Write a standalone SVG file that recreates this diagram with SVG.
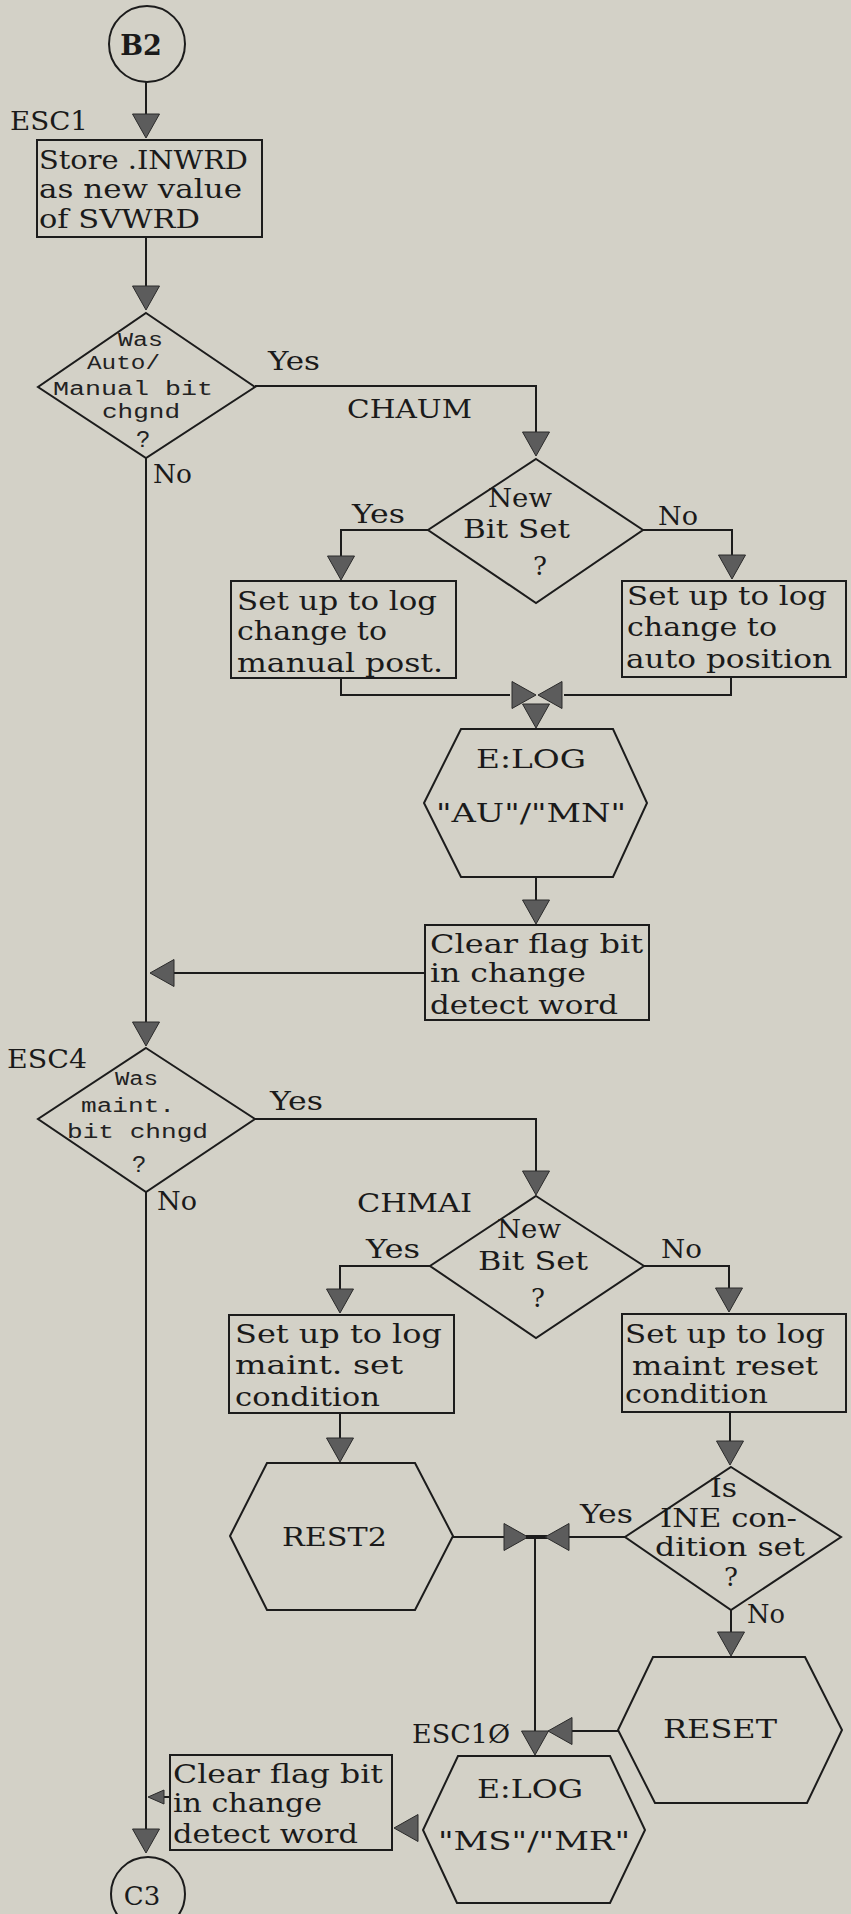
<svg xmlns="http://www.w3.org/2000/svg" xmlns:xlink="http://www.w3.org/1999/xlink" width="851" height="1914" viewBox="0 0 851 1914">
<defs>
<style>
.bg{fill:#d3d1c7}
.ln{stroke:#1c1c1c;stroke-width:2;fill:none}
.shp{stroke:#1c1c1c;stroke-width:2;fill:none}
.t{font-family:"DejaVu Serif","Liberation Serif",serif;font-size:26px;fill:#1a1a1a}
.m{font-family:"Liberation Mono","DejaVu Sans Mono",monospace;font-size:20px;fill:#222}
.b{font-weight:bold}
.ah{fill:#5c5c5c;stroke:#2a2a2a;stroke-width:1}
</style>
<path id="ad" class="ah" d="M-13.5,-24 L13.5,-24 L0,0 Z"/>
<path id="al" class="ah" d="M0,0 L24,-13.5 L24,13.5 Z"/>
<path id="ar" class="ah" d="M0,0 L-24,-13.5 L-24,13.5 Z"/>
<path id="als" class="ah" d="M0,0 L16,-7 L16,7 Z"/>
</defs>
<rect class="bg" x="0" y="0" width="851" height="1914"/>

<g id="connectors">
<line class="ln" x1="146" y1="82" x2="146" y2="115"/>
<use xlink:href="#ad" x="146" y="138"/>
<line class="ln" x1="146" y1="237" x2="146" y2="287"/>
<use xlink:href="#ad" x="146" y="310"/>
<polyline class="ln" points="255,386 536,386 536,432"/>
<use xlink:href="#ad" x="536" y="456"/>
<polyline class="ln" points="428,530 341,530 341,557"/>
<use xlink:href="#ad" x="341" y="580"/>
<polyline class="ln" points="643,530 732,530 732,556"/>
<use xlink:href="#ad" x="732" y="579"/>
<polyline class="ln" points="341,678 341,695 510,695"/>
<use xlink:href="#ar" x="536" y="695"/>
<polyline class="ln" points="731,677 731,695 564,695"/>
<use xlink:href="#al" x="538" y="695"/>
<use xlink:href="#ad" x="536" y="728"/>
<line class="ln" x1="536" y1="877" x2="536" y2="901"/>
<use xlink:href="#ad" x="536" y="924"/>
<line class="ln" x1="425" y1="973" x2="172" y2="973"/>
<use xlink:href="#al" x="150" y="973"/>
<line class="ln" x1="146" y1="458" x2="146" y2="1023"/>
<use xlink:href="#ad" x="146" y="1046"/>
<polyline class="ln" points="255,1119 536,1119 536,1172"/>
<use xlink:href="#ad" x="536" y="1195"/>
<polyline class="ln" points="430,1266 340,1266 340,1290"/>
<use xlink:href="#ad" x="340" y="1313"/>
<polyline class="ln" points="644,1266 729,1266 729,1289"/>
<use xlink:href="#ad" x="729" y="1312"/>
<line class="ln" x1="340" y1="1413" x2="340" y2="1439"/>
<use xlink:href="#ad" x="340" y="1462"/>
<line class="ln" x1="730" y1="1412" x2="730" y2="1441"/>
<use xlink:href="#ad" x="730" y="1465"/>
<line class="ln" x1="453" y1="1537" x2="506" y2="1537"/>
<use xlink:href="#ar" x="528" y="1537"/>
<line class="ln" x1="526" y1="1537" x2="547" y2="1537" style="stroke-width:4"/>
<line class="ln" x1="625" y1="1537" x2="566" y2="1537"/>
<use xlink:href="#al" x="545" y="1537"/>
<line class="ln" x1="535" y1="1537" x2="535" y2="1732"/>
<use xlink:href="#ad" x="535" y="1755"/>
<line class="ln" x1="731" y1="1610" x2="731" y2="1633"/>
<use xlink:href="#ad" x="731" y="1656"/>
<line class="ln" x1="618" y1="1731" x2="568" y2="1731"/>
<use xlink:href="#al" x="548" y="1731"/>
<use xlink:href="#al" x="394" y="1828"/>
<line class="ln" x1="170" y1="1797" x2="162" y2="1797"/>
<use xlink:href="#als" x="148" y="1797"/>
<line class="ln" x1="146" y1="1192" x2="146" y2="1830"/>
<use xlink:href="#ad" x="146" y="1853"/>
<text class="t" x="268" y="370" textLength="52" lengthAdjust="spacingAndGlyphs">Yes</text>
<text class="t" x="153" y="483" textLength="39" lengthAdjust="spacingAndGlyphs">No</text>
<text class="t" x="352" y="523" textLength="53" lengthAdjust="spacingAndGlyphs">Yes</text>
<text class="t" x="658" y="525" textLength="40" lengthAdjust="spacingAndGlyphs">No</text>
<text class="t" x="270" y="1110" textLength="53" lengthAdjust="spacingAndGlyphs">Yes</text>
<text class="t" x="157" y="1210" textLength="40" lengthAdjust="spacingAndGlyphs">No</text>
<text class="t" x="366" y="1258" textLength="54" lengthAdjust="spacingAndGlyphs">Yes</text>
<text class="t" x="661" y="1258" textLength="41" lengthAdjust="spacingAndGlyphs">No</text>
<text class="t" x="580" y="1523" textLength="53" lengthAdjust="spacingAndGlyphs">Yes</text>
<text class="t" x="747" y="1623" textLength="38" lengthAdjust="spacingAndGlyphs">No</text>
</g>

<g id="n_b2">
<circle class="shp" cx="147" cy="44" r="38"/>
<text class="t b" x="141" y="55" text-anchor="middle" style="font-size:27px">B2</text>
</g>

<g id="n_store">
<text class="t" x="10" y="130" textLength="78" lengthAdjust="spacingAndGlyphs">ESC1</text>
<rect class="shp" x="37" y="140" width="225" height="97"/>
<text class="t" x="39" y="169" textLength="209" lengthAdjust="spacingAndGlyphs">Store .INWRD</text>
<text class="t" x="39" y="198" textLength="203" lengthAdjust="spacingAndGlyphs">as new value</text>
<text class="t" x="39" y="228" textLength="161" lengthAdjust="spacingAndGlyphs">of SVWRD</text>
</g>

<g id="n_d1">
<polygon class="shp" points="146,313 255,387 146,458 38,387"/>
<text class="m" x="118" y="346" textLength="45" lengthAdjust="spacingAndGlyphs">Was</text>
<text class="m" x="87" y="369" textLength="73" lengthAdjust="spacingAndGlyphs">Auto/</text>
<text class="m" x="53" y="395" textLength="160" lengthAdjust="spacingAndGlyphs">Manual bit</text>
<text class="m" x="102" y="418" textLength="78" lengthAdjust="spacingAndGlyphs">chgnd</text>
<text class="m" x="136" y="447" style="font-size:24px">?</text>
</g>

<g id="n_d2">
<text class="t" x="347" y="418" textLength="125" lengthAdjust="spacingAndGlyphs">CHAUM</text>
<polygon class="shp" points="536,459 643,530 536,603 428,530"/>
<text class="t" x="488" y="507" textLength="64" lengthAdjust="spacingAndGlyphs">New</text>
<text class="t" x="463" y="538" textLength="107" lengthAdjust="spacingAndGlyphs">Bit Set</text>
<text class="t" x="533" y="575">?</text>
</g>

<g id="n_manual">
<rect class="shp" x="231" y="581" width="225" height="97"/>
<text class="t" x="237" y="610" textLength="200" lengthAdjust="spacingAndGlyphs">Set up to log</text>
<text class="t" x="237" y="640" textLength="150" lengthAdjust="spacingAndGlyphs">change to</text>
<text class="t" x="237" y="672" textLength="206" lengthAdjust="spacingAndGlyphs">manual post.</text>
</g>

<g id="n_auto">
<rect class="shp" x="622" y="581" width="224" height="96"/>
<text class="t" x="627" y="605" textLength="200" lengthAdjust="spacingAndGlyphs">Set up to log</text>
<text class="t" x="627" y="636" textLength="150" lengthAdjust="spacingAndGlyphs">change to</text>
<text class="t" x="626" y="668" textLength="206" lengthAdjust="spacingAndGlyphs">auto position</text>
</g>

<g id="n_elog1">
<polygon class="shp" points="461,729 613,729 647,803 613,877 461,877 424,803"/>
<text class="t" x="476" y="768" textLength="110" lengthAdjust="spacingAndGlyphs">E:LOG</text>
<text class="t" x="436" y="822" textLength="190" lengthAdjust="spacingAndGlyphs">"AU"/"MN"</text>
</g>

<g id="n_clear1">
<rect class="shp" x="425" y="925" width="224" height="95"/>
<text class="t" x="430" y="953" textLength="213" lengthAdjust="spacingAndGlyphs">Clear flag bit</text>
<text class="t" x="430" y="982" textLength="156" lengthAdjust="spacingAndGlyphs">in change</text>
<text class="t" x="430" y="1014" textLength="188" lengthAdjust="spacingAndGlyphs">detect word</text>
</g>

<g id="n_d3">
<text class="t" x="7" y="1068" textLength="80" lengthAdjust="spacingAndGlyphs">ESC4</text>
<polygon class="shp" points="146,1048 255,1119 146,1192 38,1119"/>
<text class="m" x="115" y="1085" textLength="43" lengthAdjust="spacingAndGlyphs">Was</text>
<text class="m" x="81" y="1112" textLength="94" lengthAdjust="spacingAndGlyphs">maint.</text>
<text class="m" x="67" y="1138" textLength="141" lengthAdjust="spacingAndGlyphs">bit chngd</text>
<text class="m" x="132" y="1172" style="font-size:24px">?</text>
</g>

<g id="n_d4">
<text class="t" x="357" y="1212" textLength="115" lengthAdjust="spacingAndGlyphs">CHMAI</text>
<polygon class="shp" points="536,1196 644,1266 536,1338 430,1266"/>
<text class="t" x="497" y="1238" textLength="64" lengthAdjust="spacingAndGlyphs">New</text>
<text class="t" x="478" y="1270" textLength="110" lengthAdjust="spacingAndGlyphs">Bit Set</text>
<text class="t" x="531" y="1307">?</text>
</g>

<g id="n_mset">
<rect class="shp" x="229" y="1315" width="225" height="98"/>
<text class="t" x="235" y="1343" textLength="207" lengthAdjust="spacingAndGlyphs">Set up to log</text>
<text class="t" x="235" y="1374" textLength="168" lengthAdjust="spacingAndGlyphs">maint. set</text>
<text class="t" x="235" y="1406" textLength="145" lengthAdjust="spacingAndGlyphs">condition</text>
</g>

<g id="n_mreset">
<rect class="shp" x="622" y="1314" width="224" height="98"/>
<text class="t" x="625" y="1343" textLength="200" lengthAdjust="spacingAndGlyphs">Set up to log</text>
<text class="t" x="632" y="1375" textLength="186" lengthAdjust="spacingAndGlyphs">maint reset</text>
<text class="t" x="625" y="1403" textLength="143" lengthAdjust="spacingAndGlyphs">condition</text>
</g>

<g id="n_rest2">
<polygon class="shp" points="267,1463 415,1463 453,1536 415,1610 267,1610 230,1536"/>
<text class="t" x="282" y="1546" textLength="105" lengthAdjust="spacingAndGlyphs">REST2</text>
</g>

<g id="n_ine">
<polygon class="shp" points="731,1467 841,1537 731,1610 625,1537"/>
<text class="t" x="710" y="1497" textLength="27" lengthAdjust="spacingAndGlyphs">Is</text>
<text class="t" x="660" y="1527" textLength="137" lengthAdjust="spacingAndGlyphs">INE con-</text>
<text class="t" x="655" y="1556" textLength="150" lengthAdjust="spacingAndGlyphs">dition set</text>
<text class="t" x="724" y="1586">?</text>
</g>

<g id="n_reset">
<polygon class="shp" points="653,1657 805,1657 842,1730 807,1803 655,1803 618,1730"/>
<text class="t" x="663" y="1738" textLength="114" lengthAdjust="spacingAndGlyphs">RESET</text>
</g>

<g id="n_elog2">
<text class="t" x="412" y="1743" textLength="98" lengthAdjust="spacingAndGlyphs">ESC1Ø</text>
<polygon class="shp" points="458,1756 610,1756 645,1830 610,1903 457,1903 423,1830"/>
<text class="t" x="477" y="1798" textLength="106" lengthAdjust="spacingAndGlyphs">E:LOG</text>
<text class="t" x="438" y="1850" textLength="192" lengthAdjust="spacingAndGlyphs">"MS"/"MR"</text>
</g>

<g id="n_clear2">
<rect class="shp" x="170" y="1755" width="222" height="95"/>
<text class="t" x="173" y="1783" textLength="210" lengthAdjust="spacingAndGlyphs">Clear flag bit</text>
<text class="t" x="173" y="1812" textLength="149" lengthAdjust="spacingAndGlyphs">in change</text>
<text class="t" x="173" y="1843" textLength="185" lengthAdjust="spacingAndGlyphs">detect word</text>
</g>

<g id="n_c3">
<circle class="shp" cx="148" cy="1894" r="37"/>
<text class="t" x="142" y="1905" text-anchor="middle">C3</text>
</g>
</svg>
